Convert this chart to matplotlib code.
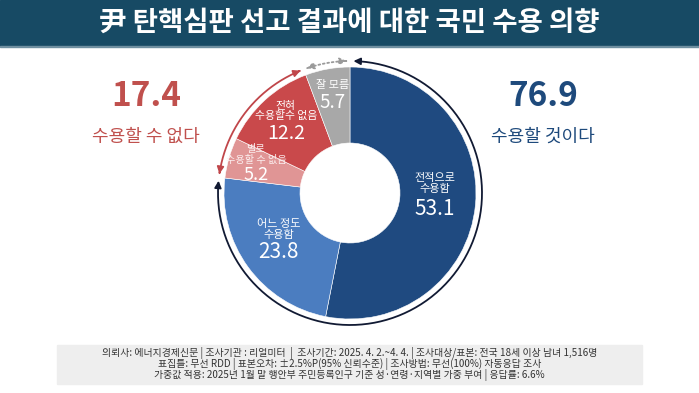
import numpy as np
import matplotlib
matplotlib.use("Agg")
import matplotlib.pyplot as plt
from matplotlib.patches import Rectangle, FancyArrowPatch
from matplotlib.path import Path

plt.rcParams['font.family'] = ['Noto Sans CJK KR', 'DejaVu Sans']

# 데이터
labels = ["전적으로\n수용함", "어느 정도\n수용함", "별로\n수용할 수 없음", "전혀\n수용할수 없음", "잘 모름"]
values = [53.1, 23.8, 5.2, 12.2, 5.7]
colors = ["#1f4a80", "#4b7dc0", "#e09595", "#c9494b", "#a8a8a8"]
accept_total = 76.9
reject_total = 17.4
accept_text = "수용할 것이다"
reject_text = "수용할 수 없다"
title = "尹 탄핵심판 선고 결과에 대한 국민 수용 의향"
footer = ["의뢰사: 에너지경제신문 | 조사기관 : 리얼미터  |  조사기간: 2025. 4. 2.~4. 4. | 조사대상/표본: 전국 18세 이상 남녀 1,516명",
          "표집틀: 무선 RDD | 표본오차: ±2.5%P(95% 신뢰수준) | 조사방법: 무선(100%) 자동응답 조사",
          "가중값 적용: 2025년 1월 말 행안부 주민등록인구 기준 성·연령·지역별 가중 부여 | 응답률: 6.6%"]

W, H = 699, 393
fig = plt.figure(figsize=(W / 100, H / 100), dpi=100)
ax = fig.add_axes([0, 0, 1, 1])

cx, cy = 350, H - 193
R, r = 126, 50

# 제목 띠
ax.add_patch(Rectangle((0, H - 46), W, 46, color="#174a64", zorder=1))
ax.add_patch(Rectangle((0, H - 47), W, 1.5, color="#6f8fa0", zorder=1))
ax.text(W / 2, H - 23, title, color="white", fontsize=19.8, fontweight="bold",
        ha="center", va="center")

# 도넛
wedges, _ = ax.pie(values, colors=colors, startangle=90, counterclock=False,
                   center=(cx, cy), radius=R,
                   wedgeprops=dict(width=R - r, edgecolor="white", linewidth=0.4))

# 라벨 (중심각 기준 배치)
label_r = [85, 88, 98, 95, 100]
name_dy = [18, 15, 11, 12, 9.6]
num_dy = [-8, -7, -9, -11, -8.4]
name_size = [8, 8, 7.3, 7.8, 8]
num_size = [15, 15, 13, 14, 13.5]
name_color = ["white", "white", "#fbeeee", "white", "white"]
cum = 0
for i, v in enumerate(values):
    mid = np.deg2rad(90 - 360 * (cum + v / 2) / 100)
    cum += v
    lx = cx + label_r[i] * np.cos(mid)
    ly = cy + label_r[i] * np.sin(mid)
    ax.text(lx, ly + name_dy[i], labels[i], color=name_color[i], fontsize=name_size[i],
            ha="center", va="center", linespacing=1.05)
    ax.text(lx, ly + num_dy[i], f"{v}", color="white", fontsize=num_size[i],
            fontweight="medium", ha="center", va="center")


def arc_arrow(a1, a2, color, ls="-"):
    t = np.deg2rad(np.linspace(a1, a2, 200))
    pts = np.column_stack([cx + (R + 6) * np.cos(t), cy + (R + 6) * np.sin(t)])
    codes = [Path.MOVETO] + [Path.LINETO] * (len(pts) - 1)
    p = FancyArrowPatch(path=Path(pts, codes), arrowstyle="<|-|>,head_length=4,head_width=2",
                        color=color, lw=1.3, linestyle=ls, zorder=5)
    ax.add_patch(p)


gap = 1.5
a_blue = 90 - 360 * accept_total / 100
a_red = a_blue - 360 * reject_total / 100
arc_arrow(90 - gap, a_blue + gap, "#111a33")
arc_arrow(a_blue - gap, a_red + gap, "#c0464a")
arc_arrow(a_red - gap, -270 + gap, "#9a9a9a", ls=(0, (1, 1.5)))

# 합계
red = "#c0504d"
navy = "#1e4a7c"
ax.text(146, H - 96, f"{reject_total}", color=red, fontsize=24, fontweight="bold",
        ha="center", va="center")
ax.text(146, H - 137, reject_text, color=red, fontsize=13, ha="center", va="center")
ax.text(543, H - 96, f"{accept_total}", color=navy, fontsize=24, fontweight="bold",
        ha="center", va="center")
ax.text(543, H - 137, accept_text, color=navy, fontsize=13, ha="center", va="center")

# 하단 정보
ax.add_patch(Rectangle((57, H - 384), 585, 39, color="#eeeeee", zorder=1))
for i, line in enumerate(footer):
    ax.text(W / 2, H - 353 - 11 * i, line, color="#333333", fontsize=7.1,
            ha="center", va="center", zorder=2)

ax.set_xlim(0, W)
ax.set_ylim(0, H)
ax.set_aspect("auto")
ax.axis("off")
fig.savefig("out.png", dpi=100)
